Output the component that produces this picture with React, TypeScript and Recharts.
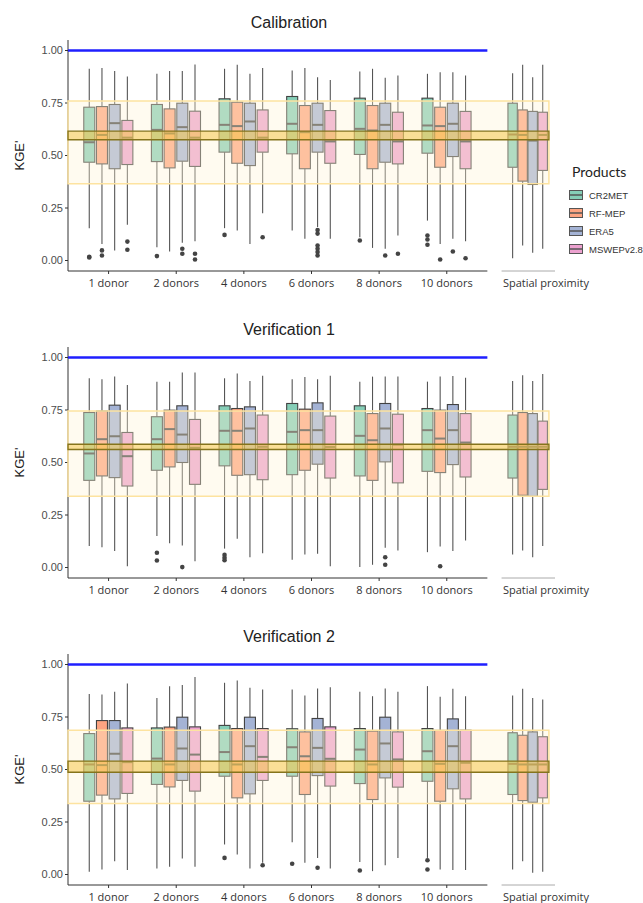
import React from "react";
import { ComposedChart, Bar, XAxis, YAxis, ReferenceLine, ReferenceArea } from "recharts";

const categories = ["1 donor", "2 donors", "4 donors", "6 donors", "8 donors", "10 donors", "Spatial proximity"];
const products = ["CR2MET", "RF-MEP", "ERA5", "MSWEPv2.8"];
const productColors = ["#66c2a5", "#fc8d62", "#8da0cb", "#e78ac3"];
const yTicks = [0, 0.25, 0.5, 0.75, 1];

// [lower whisker, Q1, median, Q3, upper whisker] for each category
const calCR2MET = [[0.154, 0.468, 0.563, 0.73, 0.913], [0.063, 0.471, 0.622, 0.743, 0.889], [0.154, 0.516, 0.646, 0.77, 0.913], [0.143, 0.508, 0.651, 0.781, 0.905], [0.111, 0.505, 0.627, 0.773, 0.9], [0.19, 0.511, 0.643, 0.773, 0.889], [0.011, 0.444, 0.6, 0.749, 0.892]];
const calRFMEP = [[0.079, 0.46, 0.598, 0.733, 0.917], [0.043, 0.441, 0.605, 0.722, 0.902], [0.143, 0.463, 0.64, 0.754, 0.932], [0.103, 0.437, 0.611, 0.738, 0.917], [0.06, 0.437, 0.619, 0.738, 0.913], [0.079, 0.444, 0.64, 0.73, 0.897], [0.071, 0.378, 0.598, 0.717, 0.932]];
const calERA5 = [[0.048, 0.437, 0.654, 0.743, 0.902], [0.084, 0.473, 0.635, 0.749, 0.902], [0.079, 0.452, 0.662, 0.749, 0.889], [0.16, 0.516, 0.646, 0.749, 0.873], [0.056, 0.468, 0.646, 0.749, 0.87], [0.103, 0.495, 0.651, 0.749, 0.897], [0.037, 0.362, 0.571, 0.71, 0.873]];
const calMSWEP = [[0.17, 0.457, 0.585, 0.667, 0.876], [0.092, 0.448, 0.585, 0.711, 0.933], [0.225, 0.516, 0.585, 0.717, 0.917], [0.103, 0.463, 0.567, 0.714, 0.86], [0.119, 0.46, 0.567, 0.706, 0.881], [0.092, 0.437, 0.567, 0.71, 0.881], [0.056, 0.429, 0.598, 0.706, 0.932]];
const calOutCR2MET = [[0.018, 0.014], [0.021], [0.122], [], [0.095], [0.119, 0.1, 0.075], []];
const calOutRFMEP = [[0.048, 0.024], [], [], [], [], [0.005], []];
const calOutERA5 = [[], [0.056, 0.032], [], [0.145, 0.128, 0.071, 0.056, 0.04, 0.024], [0.024], [0.043], []];
const calOutMSWEP = [[0.09, 0.051], [0.032, 0.005], [0.111], [], [0.032], [0.011], []];
const calBand = [0.365, 0.759];
const calMedianBand = [0.575, 0.616];

const v1CR2MET = [[0.102, 0.415, 0.543, 0.738, 0.901], [0.15, 0.463, 0.611, 0.718, 0.885], [0.09, 0.484, 0.651, 0.77, 0.901], [0.037, 0.442, 0.646, 0.781, 0.896], [0.002, 0.436, 0.627, 0.77, 0.885], [0.073, 0.458, 0.654, 0.757, 0.885], [0.062, 0.426, 0.575, 0.726, 0.888]];
const v1RFMEP = [[0.097, 0.436, 0.611, 0.745, 0.897], [0.116, 0.479, 0.659, 0.749, 0.885], [0.137, 0.439, 0.651, 0.757, 0.924], [0.062, 0.463, 0.654, 0.754, 0.907], [0.013, 0.415, 0.606, 0.733, 0.909], [0.1, 0.452, 0.614, 0.749, 0.909], [0.081, 0.344, 0.575, 0.738, 0.916]];
const v1ERA5 = [[0.078, 0.428, 0.625, 0.773, 0.909], [0.105, 0.5, 0.633, 0.77, 0.929], [0.049, 0.442, 0.662, 0.765, 0.888], [0.065, 0.492, 0.654, 0.784, 0.897], [0.094, 0.503, 0.662, 0.781, 0.909], [0.078, 0.49, 0.654, 0.776, 0.912], [0.049, 0.339, 0.575, 0.733, 0.888]];
const v1MSWEP = [[0.006, 0.388, 0.53, 0.643, 0.869], [0.03, 0.396, 0.57, 0.705, 0.928], [0.068, 0.418, 0.575, 0.726, 0.913], [0.006, 0.426, 0.574, 0.721, 0.913], [0.081, 0.403, 0.585, 0.73, 0.909], [0.129, 0.431, 0.595, 0.733, 0.904], [0.102, 0.372, 0.575, 0.697, 0.921]];
const v1OutCR2MET = [[], [0.07, 0.033], [0.06, 0.046, 0.035], [], [], [], []];
const v1OutRFMEP = [[], [], [], [], [], [0.006], []];
const v1OutERA5 = [[], [0.002], [], [], [0.049, 0.013], [], []];
const v1OutMSWEP = [[], [], [], [], [], [], []];
const v1Band = [0.339, 0.745];
const v1MedianBand = [0.562, 0.587];

const v2CR2MET = [[0.013, 0.349, 0.524, 0.671, 0.86], [0.029, 0.429, 0.552, 0.698, 0.841], [0.143, 0.468, 0.583, 0.71, 0.913], [0.154, 0.468, 0.606, 0.694, 0.881], [0.06, 0.433, 0.595, 0.695, 0.87], [0.079, 0.444, 0.587, 0.695, 0.897], [0.024, 0.381, 0.527, 0.675, 0.852]];
const v2RFMEP = [[0.024, 0.378, 0.521, 0.733, 0.857], [0.037, 0.417, 0.524, 0.702, 0.897], [0.095, 0.365, 0.524, 0.695, 0.924], [0.056, 0.381, 0.563, 0.679, 0.852], [0.016, 0.357, 0.524, 0.683, 0.849], [0.024, 0.349, 0.527, 0.686, 0.846], [0.063, 0.352, 0.524, 0.663, 0.884]];
const v2ERA5 = [[0.063, 0.36, 0.575, 0.733, 0.87], [0.076, 0.448, 0.6, 0.749, 0.902], [0.029, 0.384, 0.611, 0.749, 0.889], [0.079, 0.471, 0.603, 0.743, 0.886], [0.044, 0.46, 0.624, 0.749, 0.886], [0.021, 0.408, 0.611, 0.741, 0.884], [0.008, 0.344, 0.524, 0.679, 0.841]];
const v2MSWEP = [[0.021, 0.386, 0.535, 0.698, 0.91], [0.037, 0.397, 0.571, 0.703, 0.94], [0.056, 0.448, 0.56, 0.695, 0.881], [0.029, 0.421, 0.551, 0.703, 0.892], [0.079, 0.416, 0.548, 0.679, 0.87], [0.021, 0.36, 0.532, 0.687, 0.849], [0.013, 0.365, 0.524, 0.656, 0.833]];
const v2OutCR2MET = [[], [], [0.079], [0.051], [0.019], [0.068, 0.024], []];
const v2OutRFMEP = [[], [], [], [], [], [], []];
const v2OutERA5 = [[], [], [], [0.032], [], [], []];
const v2OutMSWEP = [[], [], [0.044], [], [], [], []];
const v2Band = [0.338, 0.687];
const v2MedianBand = [0.487, 0.54];

const BAR = 11;
const GAP = 1.7;
const SPATIAL = categories.length - 1;

function buildRows(stats: number[][][], outliers: number[][][]) {
  return categories.map((cat, i) => {
    const row: any = { cat, pos: i === SPATIAL ? i + 1.2 : i + 1 };
    products.forEach((_, j) => {
      const s = stats[j][i];
      row["k" + j] = [s[0], s[4]];
      row["s" + j] = s;
      row["o" + j] = outliers[j][i];
    });
    return row;
  });
}

function boxShape(j: number) {
  return (props: any) => {
    const { x, y, width, height, payload } = props;
    const s = payload["s" + j];
    const out: number[] = payload["o" + j];
    const k = height / (s[4] - s[0]);
    const yOf = (v: number) => y + (s[4] - v) * k;
    let cx = x + width / 2;
    let w = width;
    if (payload.cat === categories[SPATIAL]) {
      // the spatial facet is narrower
      const gc = cx - (j - 1.5) * (BAR + GAP);
      cx = gc + (cx - gc) * 0.79;
      w = width * 0.85;
    }
    const c = productColors[j];
    return (
      <g>
        <line x1={cx} x2={cx} y1={yOf(s[4])} y2={yOf(s[3])} stroke="#555" strokeWidth={1.1} />
        <line x1={cx} x2={cx} y1={yOf(s[1])} y2={yOf(s[0])} stroke="#555" strokeWidth={1.1} />
        <rect x={cx - w / 2} y={yOf(s[3])} width={w} height={yOf(s[1]) - yOf(s[3])} fill={c} fillOpacity={0.8} stroke="#424242" strokeWidth={1.1} />
        <line x1={cx - w / 2} x2={cx + w / 2} y1={yOf(s[2])} y2={yOf(s[2])} stroke="#424242" strokeWidth={2} />
        {out.map((v, i) => (
          <circle key={i} cx={cx} cy={yOf(v)} r={2.3} fill="#444" />
        ))}
      </g>
    );
  };
}

function Panel({ title, top, stats, outliers, band, medianBand }: any) {
  const rows = buildRows(stats, outliers);
  const ticks = rows.map((r) => r.pos);
  const XTick = (p: any) => {
    const row = rows.find((r) => r.pos === p.payload.value);
    const spatial = row.cat === categories[SPATIAL];
    return (
      <g>
        {!spatial && <line x1={p.x} x2={p.x} y1={p.y} y2={p.y + 3} stroke="#333" />}
        <text x={spatial ? p.x + 18 : p.x} y={p.y + 15.5} textAnchor="middle" fontSize={11} fontFamily="Open Sans" fill="#333">
          {row.cat}
        </text>
      </g>
    );
  };
  return (
    <div style={{ position: "absolute", left: 0, top, width: 643, height: 300 }}>
      <div style={{ position: "absolute", left: 189, top: 13, width: 200, textAlign: "center", fontFamily: "Liberation Sans", fontSize: 16, color: "#222" }}>
        {title}
      </div>
      <ComposedChart width={643} height={300} data={rows} margin={{ top: 39, right: 88, bottom: 0, left: 10 }} barGap={GAP}>
        <XAxis dataKey="pos" type="number" domain={[0.4, 7.6]} ticks={ticks} interval={0} axisLine={false} tickLine={false} tickSize={0} tickMargin={0} height={30} tick={XTick} />
        <YAxis
          type="number"
          domain={[-0.05, 1.05]}
          ticks={yTicks}
          tickFormatter={(v: number) => v.toFixed(2)}
          width={58}
          axisLine={{ stroke: "#333" }}
          tickLine={{ stroke: "#333" }}
          tickSize={3}
          tick={{ fontSize: 11, fontFamily: "Liberation Sans", fill: "#4d4d4d" }}
          label={{ value: "KGE'", angle: -90, position: "insideLeft", offset: 9, style: { textAnchor: "middle", fontSize: 13, fontFamily: "Liberation Sans", fill: "#222" } }}
        />
        {products.map((p, j) => (
          <Bar key={p} name={p} dataKey={"k" + j} fill={productColors[j]} barSize={BAR} isAnimationActive={false} shape={boxShape(j)} />
        ))}
        <ReferenceArea x1={0.4} x2={7.51} y1={band[0]} y2={band[1]} fill="#fff3d6" fillOpacity={0.36} stroke="#fde3a0" strokeWidth={1.5} zIndex={700} />
        <ReferenceArea x1={0.4} x2={7.51} y1={medianBand[0]} y2={medianBand[1]} fill="#f5c43c" fillOpacity={0.5} stroke="#85741c" strokeWidth={1.3} zIndex={710} />
        <ReferenceLine segment={[{ x: 0.4, y: 1 }, { x: 6.6, y: 1 }]} stroke="#1f1fff" strokeWidth={2.5} zIndex={720} />
        <ReferenceLine segment={[{ x: 0.4, y: -0.05 }, { x: 6.6, y: -0.05 }]} stroke="#333" strokeWidth={1} />
        <ReferenceLine segment={[{ x: 6.81, y: -0.05 }, { x: 7.6, y: -0.05 }]} stroke="#aaa" strokeWidth={1} />
      </ComposedChart>
    </div>
  );
}

function Legend() {
  return (
    <div style={{ position: "absolute", left: 566, top: 163 }}>
      <div style={{ fontFamily: "Lato", fontSize: 14, color: "#222", marginBottom: 6, marginLeft: 6 }}>Products</div>
      {products.map((p, j) => (
        <div key={p} style={{ display: "flex", alignItems: "center", height: 18 }}>
          <svg width={20} height={14}>
            <rect x={3.5} y={2.5} width={13} height={9} fill={productColors[j]} fillOpacity={0.8} stroke="#555" />
            <line x1={3.5} x2={16.5} y1={7} y2={7} stroke="#555" strokeWidth={1.5} />
          </svg>
          <span style={{ fontFamily: "Liberation Sans", fontSize: 9.5, color: "#333", marginLeft: 3 }}>{p}</span>
        </div>
      ))}
    </div>
  );
}

export default function App() {
  return (
    <div style={{ position: "absolute", left: 0, top: 0, width: 643, height: 903, overflow: "hidden", background: "#fff" }}>
      <Panel title="Calibration" top={0.5} stats={[calCR2MET, calRFMEP, calERA5, calMSWEP]} outliers={[calOutCR2MET, calOutRFMEP, calOutERA5, calOutMSWEP]} band={calBand} medianBand={calMedianBand} />
      <Panel title="Verification 1" top={308} stats={[v1CR2MET, v1RFMEP, v1ERA5, v1MSWEP]} outliers={[v1OutCR2MET, v1OutRFMEP, v1OutERA5, v1OutMSWEP]} band={v1Band} medianBand={v1MedianBand} />
      <Panel title="Verification 2" top={614.5} stats={[v2CR2MET, v2RFMEP, v2ERA5, v2MSWEP]} outliers={[v2OutCR2MET, v2OutRFMEP, v2OutERA5, v2OutMSWEP]} band={v2Band} medianBand={v2MedianBand} />
      <Legend />
    </div>
  );
}
